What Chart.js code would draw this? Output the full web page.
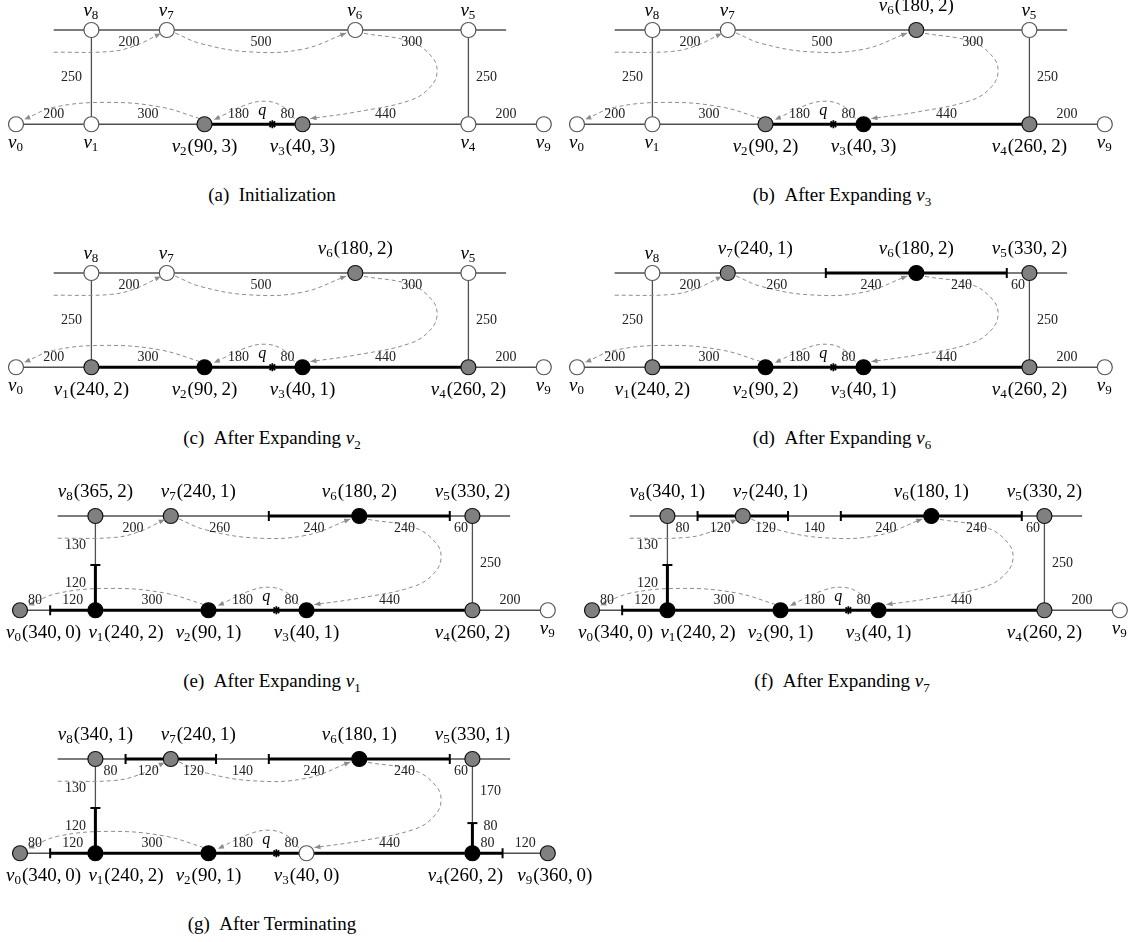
<!DOCTYPE html>
<html>
<head>
<meta charset="utf-8">
<script src="https://cdn.jsdelivr.net/npm/chart.js@4.4.0/dist/chart.umd.min.js"></script>
<style>
  body { margin: 0; background: #fff; width: 1140px; height: 942px; position: relative; overflow: hidden; font-family: "Liberation Serif", serif; }
  canvas { position: absolute; }
  .cap { position: absolute; font-size: 19px; line-height: 19px; white-space: nowrap; transform: translateX(-50%); color: #000; }
  .cap sub { font-size: 13px; line-height: 0; }
</style>
</head>
<body>
<script>
// road network: nodes placed by road distance, bottom road y=0, top road y=250
const nodeNames = ["v0", "v1", "v2", "v3", "v4", "v9", "v8", "v7", "v6", "v5"];
const nodeX = [0, 200, 500, 760, 1200, 1400, 200, 400, 900, 1200];
const nodeY = [0, 0, 0, 0, 0, 0, 250, 250, 250, 250];
const queryAt = 680; // q lies on edge v2-v3

// node state per step: w = untouched, g = queued, b = expanded
const statesA = ["w", "w", "g", "g", "w", "w", "w", "w", "w", "w"];
const statesB = ["w", "w", "g", "b", "g", "w", "w", "w", "g", "w"];
const statesC = ["w", "g", "b", "b", "g", "w", "w", "w", "g", "w"];
const statesD = ["w", "g", "b", "b", "g", "w", "w", "g", "b", "g"];
const statesE = ["g", "b", "b", "b", "g", "w", "g", "g", "b", "g"];
const statesF = ["g", "b", "b", "b", "g", "w", "g", "g", "b", "g"];
const statesG = ["g", "b", "b", "w", "b", "g", "g", "g", "b", "g"];

// (distance, count) tags per node
const tagsA = [null, null, [90, 3], [40, 3], null, null, null, null, null, null];
const tagsB = [null, null, [90, 2], [40, 3], [260, 2], null, null, null, [180, 2], null];
const tagsC = [null, [240, 2], [90, 2], [40, 1], [260, 2], null, null, null, [180, 2], null];
const tagsD = [null, [240, 2], [90, 2], [40, 1], [260, 2], null, null, [240, 1], [180, 2], [330, 2]];
const tagsE = [[340, 0], [240, 2], [90, 1], [40, 1], [260, 2], null, [365, 2], [240, 1], [180, 2], [330, 2]];
const tagsF = [[340, 0], [240, 2], [90, 1], [40, 1], [260, 2], null, [340, 1], [240, 1], [180, 1], [330, 2]];
const tagsG = [[340, 0], [240, 2], [90, 1], [40, 0], [260, 2], [360, 0], [340, 1], [240, 1], [180, 1], [330, 1]];

// break points along each road (edge weights are the gaps)
const bottomCutsA = [0, 200, 500, 680, 760, 1200, 1400];
const bottomCutsE = [0, 80, 200, 500, 680, 760, 1200, 1400];
const bottomCutsG = [0, 80, 200, 500, 680, 760, 1200, 1280, 1400];
const topCutsA = [200, 400, 900, 1200];
const topCutsD = [200, 400, 660, 900, 1140, 1200];
const topCutsF = [200, 280, 400, 520, 660, 900, 1140, 1200];
const leftCutsA = [0, 250];
const leftCutsE = [0, 120, 250];
const rightCutsA = [0, 250];
const rightCutsG = [0, 80, 250];

// covered (thick) stretches
const thickA = { bottom: [[500, 760]] };
const thickB = { bottom: [[500, 1200]] };
const thickC = { bottom: [[200, 1200]] };
const thickD = { bottom: [[200, 1200]], top: [[660, 1140]] };
const thickE = { bottom: [[80, 1200]], top: [[660, 1140]], left: [[0, 120]] };
const thickF = { bottom: [[80, 1200]], top: [[280, 520], [660, 1140]], left: [[0, 120]] };
const thickG = { bottom: [[80, 1280]], top: [[280, 520], [660, 1140]], left: [[0, 120]], right: [[0, 80]] };

// dashed shortest-path arrows
const pathIn = [[100, 191], [250, 193], [315, 208], [384, 241]];
const pathV7V6 = [[422, 242], [490, 214], [620, 192], [760, 199], [876, 242]];
const pathV6V3 = [[923, 241], [1047, 219], [1103, 179], [1117, 139], [1099, 99], [1047, 64], [905, 33], [781, 15]];
const pathV2V0 = [[488, 15], [382, 46], [240, 58], [100, 45], [22, 13]];
const pathV3V2 = [[739, 15], [706, 48], [663, 61], [611, 52], [525, 12]];
const paths = [pathIn, pathV7V6, pathV6V3, pathV2V0, pathV3V2];

const captions = [
  "(a)&nbsp;&nbsp;Initialization",
  "(b)&nbsp;&nbsp;After Expanding <i>v</i><sub>3</sub>",
  "(c)&nbsp;&nbsp;After Expanding <i>v</i><sub>2</sub>",
  "(d)&nbsp;&nbsp;After Expanding <i>v</i><sub>6</sub>",
  "(e)&nbsp;&nbsp;After Expanding <i>v</i><sub>1</sub>",
  "(f)&nbsp;&nbsp;After Expanding <i>v</i><sub>7</sub>",
  "(g)&nbsp;&nbsp;After Terminating",
];

const FONT = "'Liberation Serif', 'DejaVu Serif', serif";
const PXU = 0.377;  // pixels per road unit
const H = 185, TOPROW = 40;

const roads = {
  bottom: { h: true, at: 0, from: 0, to: 1400 },
  top: { h: true, at: 250, from: 100, to: 1300 },
  left: { h: false, at: 200, from: 0, to: 250 },
  right: { h: false, at: 1200, from: 0, to: 250 },
};
const pt = (r, s) => roads[r].h ? { x: s, y: roads[r].at } : { x: roads[r].at, y: s };
const nodesOn = {
  bottom: nodeX.filter((x, i) => nodeY[i] === 0),
  top: nodeX.filter((x, i) => nodeY[i] === 250),
  left: [0, 250],
  right: [0, 250],
};

const fill = { w: "#ffffff", g: "#808080", b: "#000000" };
const edge = { w: "#555555", g: "#111111", b: "#000000" };

// label placement: left edge offset for crowded labels, centre shift otherwise
const leftEdgeLate = { v0: -14, v1: -7, v7: -10 };
const leftEdgeD = { v7: -10 };
const shiftG = { v4: -7, v9: 7 };

function makePanel(p) {
  const cv = document.createElement("canvas");
  cv.width = p.w; cv.height = H;
  cv.style.left = p.left + "px"; cv.style.top = (p.top - (TOPROW - 30)) + "px";
  document.body.appendChild(cv);

  const cap = document.createElement("div");
  cap.className = "cap";
  cap.innerHTML = p.caption;
  cap.style.left = p.capX + "px";
  cap.style.top = (p.top + 185) + "px";
  document.body.appendChild(cap);

  const datasets = [];
  for (const r in roads) {
    const a = pt(r, roads[r].from), b = pt(r, roads[r].to);
    datasets.push({ data: [a, b], showLine: true, borderColor: "#505050", borderWidth: 1.3, pointRadius: 0, order: 5 });
  }
  for (const r in p.thick) {
    for (const [s, e] of p.thick[r]) {
      datasets.push({ data: [pt(r, s), pt(r, e)], showLine: true, borderColor: "#000", borderWidth: 3, pointRadius: 0, order: 4 });
    }
  }
  for (const path of paths) {
    datasets.push({
      data: path.map(([x, y]) => ({ x, y })), showLine: true, tension: 0.4,
      borderColor: "#8c8c8c", borderWidth: 1, borderDash: [4, 3], pointRadius: 0, order: 3,
    });
  }
  for (const st of ["w", "g", "b"]) {
    const pts = [];
    nodeNames.forEach((n, i) => { if (p.states[i] === st) pts.push({ x: nodeX[i], y: nodeY[i] }); });
    datasets.push({
      data: pts, pointRadius: 7.5, pointBackgroundColor: fill[st], pointBorderColor: edge[st],
      pointBorderWidth: 1.2, showLine: false, order: 0,
    });
  }

  const xmin = -16 / PXU, ymax = 250 + TOPROW / PXU;

  const annotate = {
    id: "annotate",
    afterDatasetsDraw(chart) {
      const ctx = chart.ctx, sx = chart.scales.x, sy = chart.scales.y;
      const X = v => sx.getPixelForValue(v), Y = v => sy.getPixelForValue(v);
      ctx.save();

      // arrow heads
      ctx.fillStyle = "#8c8c8c";
      for (const path of paths) {
        const [x1, y1] = path[path.length - 2], [x2, y2] = path[path.length - 1];
        const ax = X(x2), ay = Y(y2);
        const ang = Math.atan2(ay - Y(y1), ax - X(x1));
        ctx.beginPath();
        ctx.moveTo(ax, ay);
        ctx.lineTo(ax - 6 * Math.cos(ang) + 2.5 * Math.sin(ang), ay - 6 * Math.sin(ang) - 2.5 * Math.cos(ang));
        ctx.lineTo(ax - 6 * Math.cos(ang) - 2.5 * Math.sin(ang), ay - 6 * Math.sin(ang) + 2.5 * Math.cos(ang));
        ctx.closePath();
        ctx.fill();
      }

      // ticks + edge weights
      ctx.strokeStyle = "#000"; ctx.lineWidth = 2;
      ctx.fillStyle = "#222"; ctx.font = "14px " + FONT;
      ctx.textAlign = "center"; ctx.textBaseline = "middle";
      for (const r in p.cuts) {
        const cuts = p.cuts[r], rd = roads[r];
        for (const c of cuts) {
          if (nodesOn[r].includes(c) || (r === "bottom" && c === queryAt)) continue;
          const q = pt(r, c);
          ctx.beginPath();
          if (rd.h) { ctx.moveTo(X(q.x), Y(q.y) - 5); ctx.lineTo(X(q.x), Y(q.y) + 5); }
          else { ctx.moveTo(X(q.x) - 5, Y(q.y)); ctx.lineTo(X(q.x) + 5, Y(q.y)); }
          ctx.stroke();
        }
        for (let i = 0; i < cuts.length - 1; i++) {
          let mid = (cuts[i] + cuts[i + 1]) / 2;
          if (!rd.h) mid = Math.min(172, Math.max(72, mid));
          const q = pt(r, mid);
          const txt = String(cuts[i + 1] - cuts[i]);
          if (r === "bottom") ctx.fillText(txt, X(q.x), Y(q.y) - 10);
          else if (r === "top") ctx.fillText(txt, X(q.x), Y(q.y) + 12);
          else if (r === "left") ctx.fillText(txt, X(q.x) - 20, Y(q.y));
          else ctx.fillText(txt, X(q.x) + 18, Y(q.y));
        }
      }

      // query point q
      const qx = X(queryAt), qy = Y(0);
      ctx.lineWidth = 1.8; ctx.strokeStyle = "#000";
      for (let k = 0; k < 4; k++) {
        const a = k * Math.PI / 4;
        ctx.beginPath();
        ctx.moveTo(qx - 4 * Math.cos(a), qy - 4 * Math.sin(a));
        ctx.lineTo(qx + 4 * Math.cos(a), qy + 4 * Math.sin(a));
        ctx.stroke();
      }
      ctx.fillStyle = "#000";
      ctx.font = "italic 16px " + FONT;
      ctx.fillText("q", X(queryAt - 27), qy - 13);

      // node labels
      ctx.textAlign = "left"; ctx.textBaseline = "alphabetic";
      nodeNames.forEach((n, i) => {
        const t = p.tags[i];
        const tag = t ? "(" + t[0] + ",\u2009" + t[1] + ")" : "";
        const sub = n.slice(1);
        ctx.font = "italic 19px " + FONT; const wv = ctx.measureText("v").width;
        ctx.font = "13px " + FONT; const ws = ctx.measureText(sub).width;
        ctx.font = "19px " + FONT; const wt = tag ? ctx.measureText(tag).width : 0;
        const total = wv + ws + 1 + wt;
        const cx = X(nodeX[i]), cy = Y(nodeY[i]);
        let x;
        if (tag && n in p.leftEdge) x = cx + p.leftEdge[n];
        else x = cx - total / 2 + (p.shift[n] || 0);
        const above = nodeY[i] > 0;
        const base = above ? cy - (tag ? 19 : 14) : cy + (tag ? 28 : 24);
        ctx.fillStyle = "#000";
        ctx.font = "italic 19px " + FONT; ctx.fillText("v", x, base); x += wv;
        ctx.font = "13px " + FONT; ctx.fillText(sub, x, base + 3); x += ws + 1;
        if (tag) { ctx.font = "19px " + FONT; ctx.fillText(tag, x, base); }
      });
      ctx.restore();
    },
  };

  new Chart(cv, {
    type: "scatter",
    data: { datasets },
    options: {
      responsive: false,
      animation: false,
      devicePixelRatio: 1,
      events: [],
      layout: { padding: 0, autoPadding: false },
      plugins: { legend: { display: false }, tooltip: { enabled: false } },
      scales: {
        x: { type: "linear", display: false, min: xmin, max: xmin + p.w / PXU },
        y: { type: "linear", display: false, min: ymax - H / PXU, max: ymax },
      },
    },
    plugins: [annotate],
  });
}

const panels = [
  { states: statesA, tags: tagsA, thick: thickA, cuts: { bottom: bottomCutsA, top: topCutsA, left: leftCutsA, right: rightCutsA }, leftEdge: {}, shift: {}, left: 0, top: 0, w: 560, capX: 272 },
  { states: statesB, tags: tagsB, thick: thickB, cuts: { bottom: bottomCutsA, top: topCutsA, left: leftCutsA, right: rightCutsA }, leftEdge: {}, shift: {}, left: 561, top: 0, w: 560, capX: 842 },
  { states: statesC, tags: tagsC, thick: thickC, cuts: { bottom: bottomCutsA, top: topCutsA, left: leftCutsA, right: rightCutsA }, leftEdge: {}, shift: {}, left: 0, top: 243, w: 560, capX: 272 },
  { states: statesD, tags: tagsD, thick: thickD, cuts: { bottom: bottomCutsA, top: topCutsD, left: leftCutsA, right: rightCutsA }, leftEdge: leftEdgeD, shift: {}, left: 561, top: 243, w: 560, capX: 842 },
  { states: statesE, tags: tagsE, thick: thickE, cuts: { bottom: bottomCutsE, top: topCutsD, left: leftCutsE, right: rightCutsA }, leftEdge: leftEdgeLate, shift: {}, left: 4, top: 486, w: 560, capX: 272 },
  { states: statesF, tags: tagsF, thick: thickF, cuts: { bottom: bottomCutsE, top: topCutsF, left: leftCutsE, right: rightCutsA }, leftEdge: leftEdgeLate, shift: {}, left: 576, top: 486, w: 560, capX: 842 },
  { states: statesG, tags: tagsG, thick: thickG, cuts: { bottom: bottomCutsG, top: topCutsF, left: leftCutsE, right: rightCutsG }, leftEdge: leftEdgeLate, shift: shiftG, left: 4, top: 729, w: 620, capX: 272 },
];
panels.forEach((p, i) => makePanel({ ...p, caption: captions[i] }));
</script>
</body>
</html>
